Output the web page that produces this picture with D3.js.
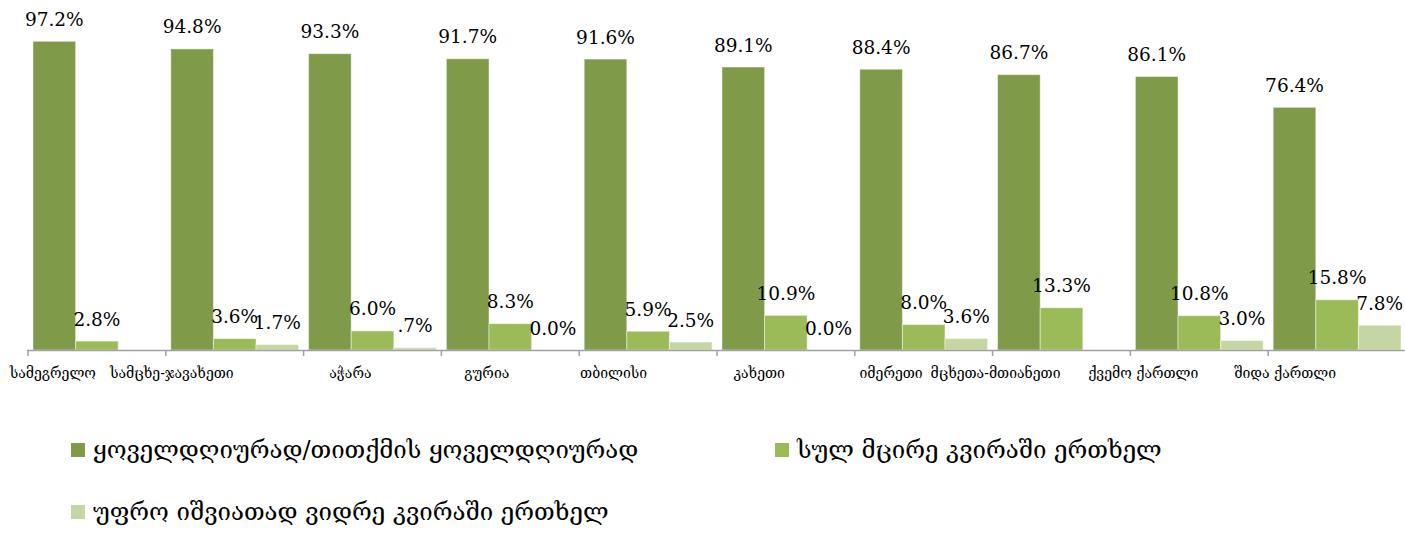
<!DOCTYPE html>
<html>
<head>
<meta charset="utf-8">
<script src="https://cdn.jsdelivr.net/npm/d3@7"></script>
<style>
  html, body { margin: 0; padding: 0; background: #ffffff; }
  svg { display: block; }
</style>
</head>
<body>
<svg id="chart" width="1405" height="533"></svg>
<script>
// Regions of Georgia
const regions = [
  "სამეგრელო", "სამცხე-ჯავახეთი", "აჭარა", "გურია", "თბილისი",
  "კახეთი", "იმერეთი", "მცხეთა-მთიანეთი", "ქვემო ქართლი", "შიდა ქართლი"
];

// Frequency groups (legend order)
const seriesNames = [
  "ყოველდღიურად/თითქმის ყოველდღიურად",
  "სულ მცირე კვირაში ერთხელ",
  "უფრო იშვიათად ვიდრე კვირაში ერთხელ"
];

// Percentages per region; null = no value reported
const daily  = [97.2, 94.8, 93.3, 91.7, 91.6, 89.1, 88.4, 86.7, 86.1, 76.4];
const weekly = [2.8, 3.6, 6.0, 8.3, 5.9, 10.9, 8.0, 13.3, 10.8, 15.8];
const rarer  = [null, 1.7, 0.7, 0.0, 2.5, 0.0, 3.6, null, 3.0, 7.8];

const seriesValues = [daily, weekly, rarer];
const colors = ["#7f9b4a", "#9bbb59", "#c5d6a3"];

const svg = d3.select("#chart");

const plotLeft = 28, plotRight = 1406, baseY = 350;

const x0 = d3.scaleBand().domain(regions).range([plotLeft, plotRight]).padding(0);
const x1 = d3.scaleBand().domain(d3.range(seriesValues.length))
  .range([5, x0.bandwidth() - 5]).padding(0);
const y = d3.scaleLinear().domain([0, 100]).range([baseY, 32.4]);

// Percent labels: values below one are written without the leading zero
const fmt1 = d3.format(".1f");
const pct = v => (v > 0 && v < 1 ? fmt1(v).replace(/^0/, "") : fmt1(v)) + "%";

const rows = [];
seriesValues.forEach((vals, s) => {
  vals.forEach((v, i) => {
    if (v !== null) rows.push({ region: regions[i], s, v });
  });
});

const bars = svg.append("g");
bars.selectAll("rect").data(rows).join("rect")
  .attr("x", d => x0(d.region) + x1(d.s))
  .attr("y", d => y(d.v))
  .attr("width", x1.bandwidth())
  .attr("height", d => baseY - y(d.v))
  .attr("fill", d => colors[d.s])
  .attr("stroke", "rgba(255,255,255,0.45)")
  .attr("stroke-width", 1);

svg.append("g").selectAll("text").data(rows).join("text")
  .attr("x", d => x0(d.region) + x1(d.s) + x1.bandwidth() / 2)
  .attr("y", d => y(d.v) - 15.5)
  .attr("text-anchor", "middle")
  .attr("font-family", "DejaVu Serif, serif")
  .attr("font-size", 18.5)
  .attr("fill", "#000")
  .text(d => pct(d.v));

// Category axis: baseline with tick marks between groups
const axis = svg.append("g");
axis.append("line")
  .attr("x1", plotLeft - 1).attr("x2", plotRight)
  .attr("y1", baseY + 0.5).attr("y2", baseY + 0.5)
  .attr("stroke", "#a0a0a0").attr("stroke-width", 1.5);

const tickXs = regions.map(r => x0(r)).concat([plotRight]);
axis.selectAll("line.tick").data(tickXs).join("line")
  .attr("class", "tick")
  .attr("x1", d => d).attr("x2", d => d)
  .attr("y1", baseY).attr("y2", baseY + 6)
  .attr("stroke", "#a0a0a0").attr("stroke-width", 1.5);

axis.selectAll("text").data(regions).join("text")
  .attr("x", d => x0(d) + x0.bandwidth() / 2 - 1)
  .attr("y", 378)
  .attr("text-anchor", "end")
  .attr("font-family", "DejaVu Serif, DejaVu Sans, serif")
  .attr("font-size", 14)
  .attr("fill", "#000")
  .text(d => d);

// Legend
const legendPos = [[71, 443], [775, 443], [71, 505]];
const legend = svg.append("g");
const items = legend.selectAll("g").data(seriesNames).join("g")
  .attr("transform", (d, i) => `translate(${legendPos[i][0]},${legendPos[i][1]})`);
items.append("rect")
  .attr("width", 14).attr("height", 14)
  .attr("fill", (d, i) => colors[i]);
items.append("text")
  .attr("x", 22).attr("y", 15)
  .attr("font-family", "DejaVu Serif, DejaVu Sans, serif")
  .attr("font-size", 24)
  .attr("fill", "#000")
  .text(d => d);
</script>
</body>
</html>
